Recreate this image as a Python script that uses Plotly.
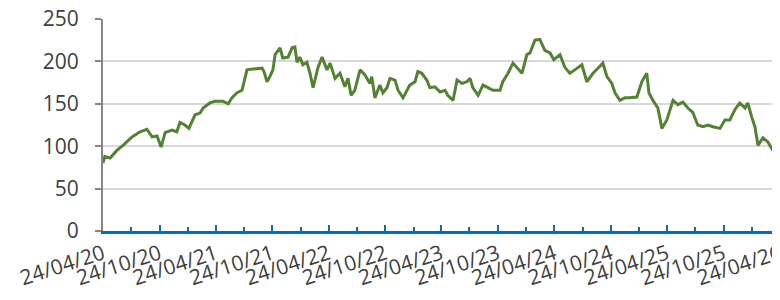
import plotly.graph_objects as go

dates = [
    "2020-04-24", "2020-04-30", "2020-05-17", "2020-06-08", "2020-06-28", "2020-07-27",
    "2020-08-22", "2020-09-13", "2020-09-30", "2020-10-16", "2020-10-29", "2020-11-11",
    "2020-12-03", "2020-12-19", "2020-12-29", "2021-01-14", "2021-01-27", "2021-02-16",
    "2021-03-04", "2021-03-14", "2021-04-05", "2021-04-21", "2021-05-17", "2021-06-03",
    "2021-06-15", "2021-07-02", "2021-07-18", "2021-07-24", "2021-08-03", "2021-08-22",
    "2021-09-21", "2021-09-27", "2021-10-07", "2021-10-16", "2021-10-26", "2021-11-02",
    "2021-11-18", "2021-11-27", "2021-12-14", "2021-12-27", "2022-01-05", "2022-01-12",
    "2022-01-21", "2022-01-31", "2022-02-13", "2022-02-23", "2022-03-05", "2022-03-21",
    "2022-04-03", "2022-04-19",
    "2022-04-29", "2022-05-15", "2022-05-31", "2022-06-16", "2022-06-26", "2022-07-06",
    "2022-07-18", "2022-08-04", "2022-08-20", "2022-09-05", "2022-09-11", "2022-09-21",
    "2022-10-07", "2022-10-17", "2022-10-30", "2022-11-09", "2022-11-25", "2022-12-05",
    "2022-12-21", "2023-01-12", "2023-01-29", "2023-02-07", "2023-02-20", "2023-03-08",
    "2023-03-18", "2023-04-03", "2023-04-20", "2023-05-06", "2023-05-15", "2023-06-01",
    "2023-06-14", "2023-06-30", "2023-07-16", "2023-07-26", "2023-08-04", "2023-08-21",
    "2023-09-06", "2023-09-22", "2023-10-08", "2023-10-21", "2023-10-31", "2023-11-09",
    "2023-11-26", "2023-12-12", "2023-12-25", "2024-01-10", "2024-01-26", "2024-02-05",
    "2024-02-21", "2024-03-08", "2024-03-24", "2024-04-10", "2024-04-22", "2024-05-12",
    "2024-05-28", "2024-06-13", "2024-06-29", "2024-07-22", "2024-08-07", "2024-08-27",
    "2024-09-12", "2024-09-28", "2024-10-11", "2024-10-27", "2024-11-06", "2024-11-22",
    "2024-12-08", "2024-12-24", "2025-01-16", "2025-02-01", "2025-02-17", "2025-02-24",
    "2025-03-09", "2025-03-25", "2025-04-07", "2025-04-23", "2025-05-13", "2025-05-29",
    "2025-06-14", "2025-06-30", "2025-07-16", "2025-08-01", "2025-08-18", "2025-09-03",
    "2025-09-19", "2025-10-12", "2025-10-28", "2025-11-13", "2025-11-29", "2025-12-15",
    "2026-01-01", "2026-01-10", "2026-01-23", "2026-02-02", "2026-02-12", "2026-02-28",
    "2026-03-16", "2026-03-29", "2026-04-14", "2026-04-24",
]

values = [
    80, 88, 86, 95, 101, 111,
    117, 120, 111, 112, 99, 116,
    119, 117, 128, 125, 121, 137,
    139, 145, 151, 153, 153, 150,
    157, 163, 166, 174, 190, 191,
    192, 188, 176, 182, 190, 208,
    216, 204, 205, 216, 217, 199,
    205, 196, 199, 186, 169, 193,
    205, 190,
    198, 180, 186, 170, 180, 160,
    166, 190, 184, 174, 182, 157,
    172, 163, 169, 180, 178, 166,
    157, 172, 176, 188, 186, 178,
    169, 170, 164, 166, 160, 154,
    178, 174, 176, 180, 169, 160,
    172, 169, 166, 166, 166, 176,
    186, 198, 192, 186, 208, 210,
    225, 226, 213, 210, 202, 208,
    193, 186, 190, 196, 176, 186,
    192, 198, 182, 174, 163, 154,
    157, 157, 158, 176, 186, 163,
    154, 145, 121, 131, 154, 149,
    152, 145, 140, 125, 123, 125,
    123, 121, 131, 131, 143, 151,
    145, 151, 134, 123, 101, 110,
    105, 97, 105, 108,
]

y_ticks = [0, 50, 100, 150, 200, 250]
x_tickvals = ["2020-04-24", "2020-10-24", "2021-04-24", "2021-10-24", "2022-04-24",
              "2022-10-24", "2023-04-24", "2023-10-24", "2024-04-24", "2024-10-24",
              "2025-04-24", "2025-10-24", "2026-04-24"]
x_ticktext = ["24/04/20", "24/10/20", "24/04/21", "24/10/21", "24/04/22",
              "24/10/22", "24/04/23", "24/10/23", "24/04/24", "24/10/24",
              "24/04/25", "24/10/25", "24/04/26"]
x_start = "2020-04-24"
x_end = "2026-04-24 06:00"

fig = go.Figure()
fig.add_trace(go.Scatter(
    x=dates, y=values, mode="lines",
    line=dict(color="#548235", width=3),
    showlegend=False, hoverinfo="skip",
))

font_family = "Open Sans, sans-serif"

# page body has an 8px margin, so the figure is offset by 8px right/down
fig.update_layout(
    width=772, height=292,
    margin=dict(l=95, r=0, t=11, b=69, autoexpand=False),
    paper_bgcolor="white", plot_bgcolor="white",
    font=dict(family=font_family, size=21, color="#404040"),
)

fig.update_xaxes(
    type="date",
    range=[x_start, x_end],
    tickvals=x_tickvals, ticktext=x_ticktext,
    tickangle=-18,
    ticklabeloverflow="allow",
    ticks="inside", ticklen=6, tickwidth=2, tickcolor="#0070C0",
    minor=dict(ticks="inside", ticklen=4, tickwidth=2, tickcolor="#0070C0",
               dtick="M3", tick0=x_start, showgrid=False),
    showline=True, linecolor="#0070C0", linewidth=2.5,
    showgrid=False, zeroline=False, automargin=False,
    tickfont=dict(family=font_family, size=21, color="#404040"),
)

fig.update_yaxes(
    range=[0, 250],
    tickvals=y_ticks,
    ticklabeloverflow="allow",
    ticks="outside", ticklen=6, tickwidth=2, tickcolor="#868686",
    showline=True, linecolor="#868686", linewidth=2,
    showgrid=True, gridcolor="#d9d9d9", gridwidth=2,
    zeroline=False, automargin=False,
    ticklabelstandoff=12,
    tickfont=dict(family=font_family, size=21, color="#404040"),
)

fig.write_html("out.html")
